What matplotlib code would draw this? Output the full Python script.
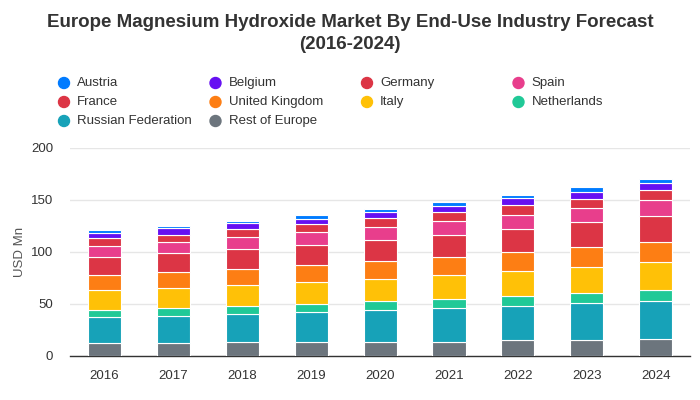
import numpy as np
import matplotlib.pyplot as plt
from matplotlib.patches import Ellipse

plt.rcParams['font.family'] = ['Liberation Sans', 'DejaVu Sans']

# Data (USD Mn)
years = ['2016', '2017', '2018', '2019', '2020', '2021', '2022', '2023', '2024']

rest_of_europe = [12.5, 12.5, 13.1, 13.1, 13.8, 13.8, 15.1, 15.1, 16.0]
russian_federation = [24.7, 25.6, 26.9, 28.8, 30.1, 32.1, 32.7, 35.6, 36.5]
netherlands = [6.7, 7.7, 7.7, 7.7, 8.7, 8.7, 9.6, 9.6, 10.6]
italy = [19.2, 19.2, 20.2, 21.2, 21.2, 23.1, 24.0, 25.0, 26.9]
united_kingdom = [14.7, 15.4, 15.4, 16.3, 17.3, 17.3, 18.3, 19.2, 19.2]
france = [17.3, 18.3, 19.2, 19.2, 20.2, 21.2, 22.1, 24.0, 25.0]
spain = [10.3, 10.6, 11.5, 12.5, 12.5, 13.5, 13.5, 13.5, 15.4]
germany = [7.7, 7.4, 7.7, 7.7, 8.7, 8.7, 9.6, 9.3, 9.6]
belgium = [4.8, 6.1, 5.8, 5.4, 5.8, 5.8, 6.7, 6.7, 6.7]
austria = [3.2, 2.6, 2.6, 3.5, 3.5, 3.5, 3.2, 4.5, 4.2]

# legend order (top of stack first)
names = ['Austria', 'Belgium', 'Germany', 'Spain', 'France', 'United Kingdom',
         'Italy', 'Netherlands', 'Russian Federation', 'Rest of Europe']
series = [austria, belgium, germany, spain, france, united_kingdom,
          italy, netherlands, russian_federation, rest_of_europe]
colors = ['#007bff', '#6610f2', '#dc3545', '#e83e8c', '#dc3545', '#fd7e14',
          '#ffc107', '#20c997', '#17a2b8', '#6c757d']

fig = plt.figure(figsize=(7, 4), dpi=100)
ax = fig.add_axes([0.1, 0.11, 0.886, 0.52])

x = np.arange(len(years))
bottom = np.zeros(len(years))
# draw from the bottom of the stack upwards
for name, vals, c in zip(names[::-1], series[::-1], colors[::-1]):
    vals = np.array(vals)
    ax.bar(x, vals, bottom=bottom, width=0.48, color=c, edgecolor='white',
           linewidth=0.8, zorder=3)
    bottom += vals

ax.set_xlim(-0.5, len(years) - 0.5)
ax.set_ylim(0, 200)
ax.set_yticks([0, 50, 100, 150, 200])
ax.set_xticks(x)
ax.set_xticklabels(years)
ax.tick_params(axis='both', length=0, labelsize=9.5, colors='#333333')
ax.tick_params(axis='x', pad=10)
ax.tick_params(axis='y', pad=12)
ax.grid(axis='y', color='#e6e6e6', linewidth=1, zorder=0)
for s in ['top', 'right', 'left']:
    ax.spines[s].set_visible(False)
ax.spines['bottom'].set_color('#333333')
ax.spines['bottom'].set_linewidth(1)
ax.set_ylabel('USD Mn', fontsize=9.5, color='#555555', labelpad=4)

fig.suptitle('Europe Magnesium Hydroxide Market By End-Use Industry Forecast\n(2016-2024)',
             x=0.5, y=0.965, fontsize=13.5, fontweight='bold', color='#333333',
             linespacing=1.4)

# legend, 4 columns filled row by row
for i, (name, c) in enumerate(zip(names, colors)):
    col, row = i % 4, i // 4
    mx = (64 + col * 151.5) / 700
    my = 1 - (83 + row * 19) / 400
    fig.patches.append(Ellipse((mx, my), 11 / 700, 11 / 400, transform=fig.transFigure,
                               color=c, figure=fig))
    fig.text(mx + 13 / 700, my, name, fontsize=9.5, color='#333333', va='center')

plt.savefig('out.png', dpi=100)
